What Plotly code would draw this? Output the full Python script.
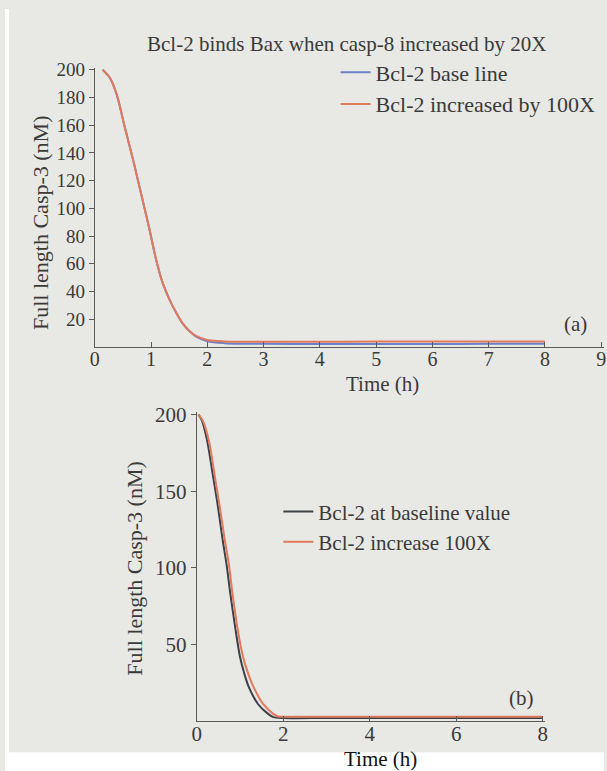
import plotly.graph_objects as go

# ---------- data: panel (a) ----------
t_a = [0.14, 0.27, 0.39, 0.53, 0.68, 0.82, 0.965, 1.09, 1.2, 1.33, 1.45, 1.56,
       1.68, 1.8, 2.0, 2.3, 2.6, 3, 4, 5, 6, 7, 8]
a_base = [200, 194, 182, 159, 135, 111, 86, 63, 47, 34, 24.5, 17,
          11.5, 7.5, 4.2, 2.8, 2.4, 2.3, 2.2, 2.2, 2.2, 2.3, 2.3]
a_100x = [200, 194, 182, 159, 135, 111, 86, 63, 47, 34, 24.5, 17,
          11.5, 8, 5, 4, 3.8, 3.8, 3.8, 3.9, 3.9, 4.0, 4.0]

# ---------- data: panel (b) ----------
t_b_base = [0.04, 0.12, 0.24, 0.37, 0.49, 0.60, 0.685, 0.78, 0.89, 1.0, 1.1, 1.2,
            1.42, 1.65, 1.77, 2.0, 3, 4, 5, 6, 7, 8]
b_base = [200, 196, 183, 161, 140, 118, 103, 82.5, 61, 42, 31, 22.5,
          11, 4.7, 2.6, 2.0, 2.0, 2.0, 2.0, 2.0, 2.0, 2.0]
t_b_100x = [0.04, 0.14, 0.28, 0.41, 0.53, 0.65, 0.74, 0.83, 0.94, 1.07, 1.19, 1.31,
            1.54, 1.77, 1.88, 2.0, 3, 4, 5, 6, 7, 8]
b_100x = [200, 196, 183, 161, 140, 118, 103, 82.5, 61, 42, 31, 22.5,
          11, 4.7, 3.0, 2.8, 2.8, 2.8, 2.8, 2.8, 2.8, 2.8]

ticks_a_x = [0, 1, 2, 3, 4, 5, 6, 7, 8, 9]
ticks_a_y = [20, 40, 60, 80, 100, 120, 140, 160, 180, 200]
ticks_b_x = [0, 2, 4, 6, 8]
ticks_b_y = [50, 100, 150, 200]

W, H = 607, 771
BG = "#e8e8e4"
TXT = "#3a3a3a"
AX = "#5a5a5a"
FONT = "Liberation Serif"

def px(x):
    return x / W

def py(y):
    return (H - y) / H

fig = go.Figure()
fig.add_trace(go.Scatter(x=t_a, y=a_base, mode="lines", name="Bcl-2 base line",
                         line=dict(color="#6f80c6", width=2, shape="spline", smoothing=0.8),
                         xaxis="x", yaxis="y", legend="legend"))
fig.add_trace(go.Scatter(x=t_a, y=a_100x, mode="lines", name="Bcl-2 increased by 100X",
                         line=dict(color="#e07a5c", width=2, shape="spline", smoothing=0.8),
                         xaxis="x", yaxis="y", legend="legend"))
fig.add_trace(go.Scatter(x=t_b_base, y=b_base, mode="lines", name="Bcl-2 at baseline value",
                         line=dict(color="#3d4148", width=2, shape="spline", smoothing=0.8),
                         xaxis="x2", yaxis="y2", legend="legend2"))
fig.add_trace(go.Scatter(x=t_b_100x, y=b_100x, mode="lines", name="Bcl-2 increase 100X",
                         line=dict(color="#e07a5c", width=2, shape="spline", smoothing=0.8),
                         xaxis="x2", yaxis="y2", legend="legend2"))

def axis(size, **kw):
    d = dict(showgrid=False, zeroline=False, showline=True, linecolor=AX,
             linewidth=1.2, tickcolor=AX, ticklen=5, tickwidth=1.2,
             tickfont=dict(family=FONT, size=size, color=TXT))
    d.update(kw)
    return d

fig.update_layout(
    width=W, height=H, margin=dict(l=0, r=0, t=0, b=0),
    paper_bgcolor=BG, plot_bgcolor="rgba(0,0,0,0)",
    font=dict(family=FONT, color=TXT),
    xaxis=axis(20, domain=[px(91), px(607)], range=[0, 9.05], anchor="y",
               tickvals=ticks_a_x, ticks="inside", ticklabelstandoff=-6),
    yaxis=axis(19, domain=[py(342), py(60)], range=[0, 201], anchor="x",
               tickvals=ticks_a_y, ticks="outside"),
    xaxis2=axis(21, domain=[px(194.3), px(547)], range=[0, 8.05], anchor="y2",
                tickvals=ticks_b_x, ticks="inside", ticklabelstandoff=-6),
    yaxis2=axis(21, domain=[py(720.5), py(408)], range=[0, 201.5], anchor="x2",
                tickvals=ticks_b_y, ticks="outside"),
    legend=dict(x=px(335), y=py(43), xanchor="left", yanchor="top",
                bgcolor="rgba(0,0,0,0)", font=dict(family=FONT, size=22, color=TXT),
                tracegroupgap=0, itemwidth=30),
    legend2=dict(x=px(277), y=py(488), xanchor="left", yanchor="top",
                 bgcolor="rgba(0,0,0,0)", font=dict(family=FONT, size=21, color=TXT),
                 tracegroupgap=0, itemwidth=30),
    showlegend=True,
)

# white scan margins
fig.add_shape(type="rect", xref="paper", yref="paper", x0=0, x1=1, y0=0, y1=py(752),
              fillcolor="white", line_width=0, layer="below")
fig.add_shape(type="rect", xref="paper", yref="paper", x0=0, x1=px(4), y0=0, y1=1,
              fillcolor="white", line_width=0, layer="below")

ann = [
    dict(text="Bcl-2 binds Bax when casp-8 increased by 20X", x=px(346), y=py(35), size=21),
    dict(text="Time (h)", x=px(383), y=py(379), size=21),
    dict(text="Full length Casp-3 (nM)", x=px(36), y=py(216), size=22, textangle=-90),
    dict(text="(a)", x=px(578), y=py(319), size=21),
    dict(text="Full length Casp-3 (nM)", x=px(131), y=py(566), size=22, textangle=-90),
    dict(text="(b)", x=px(523), y=py(697), size=21),
    dict(text="Time (h)", x=px(381), y=py(759), size=21, color="#111111"),
]
for a in ann:
    fig.add_annotation(text=a["text"], x=a["x"], y=a["y"], xref="paper", yref="paper",
                       xanchor="center", yanchor="middle", showarrow=False,
                       textangle=a.get("textangle", 0),
                       font=dict(family=FONT, size=a["size"], color=a.get("color", TXT)))

fig.write_html("out.html")
